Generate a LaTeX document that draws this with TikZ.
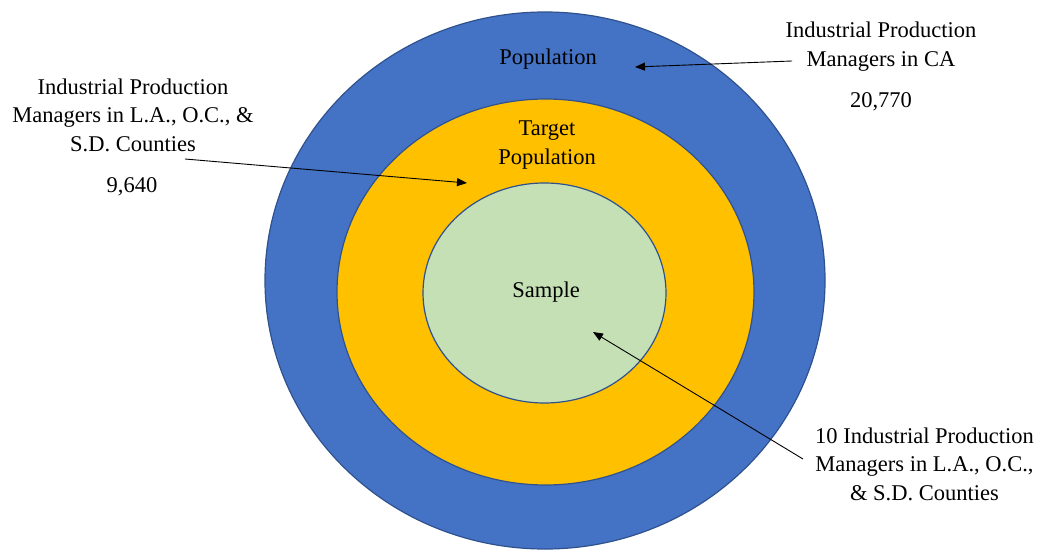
\documentclass[tikz,border=0pt]{standalone}
\usepackage{fontspec}
\setmainfont{Liberation Serif}
\usetikzlibrary{shapes.geometric,arrows.meta}
\definecolor{popblue}{HTML}{4472C4}
\definecolor{tgtorange}{HTML}{FFC000}
\definecolor{smpgreen}{HTML}{C5E0B4}
\definecolor{edgeblue}{HTML}{2F528F}
\tikzset{
  ring/.style={ellipse, draw=edgeblue, line width=1.2pt, inner sep=0pt},
  lbl/.style={align=center, inner sep=0pt, font=\fontsize{22.5}{28.5}\selectfont},
  pointer/.style={-{Triangle[length=10pt,width=8pt]}, line width=0.9pt, black},
}
\begin{document}
\begin{tikzpicture}[x=1pt,y=-1pt]
\useasboundingbox (0,0) rectangle (1041,551);
\node[ring, fill=popblue, minimum width=560pt, minimum height=537pt] (pop) at (545,280.5) {};
\node[ring, fill=tgtorange, minimum width=417pt, minimum height=386pt] (tgt) at (545.5,292) {};
\node[ring, fill=smpgreen, minimum width=243pt, minimum height=220pt] (smp) at (544.5,293) {};

\node[lbl] (popl) at (548,59.5) {Population};
\node[lbl] (tgtl) at (547,145) {Target\\Population};
\node[lbl] (smpl) at (546,292) {Sample};

\node[lbl] (cal) at (881,46.5) {Industrial Production\\Managers in CA};
\node[lbl] (caln) at (881,102) {20,770};
\node[lbl] (lal) at (133,115) {Industrial Production\\Managers in L.A., O.C., \&\\S.D. Counties};
\node[lbl] (laln) at (132,187) {9,640};
\node[lbl] (sl) at (924.5,464) {10 Industrial Production\\Managers in L.A., O.C.,\\\& S.D. Counties};

\coordinate (a1s) at (792,61);
\coordinate (a1e) at (635,67);
\coordinate (a2s) at (185,159);
\coordinate (a2e) at (467,183);
\coordinate (a3s) at (803,459);
\coordinate (a3e) at (593,332);
\draw[pointer] (a1s) -- (a1e);
\draw[pointer] (a2s) -- (a2e);
\draw[pointer] (a3s) -- (a3e);
\end{tikzpicture}
\end{document}
